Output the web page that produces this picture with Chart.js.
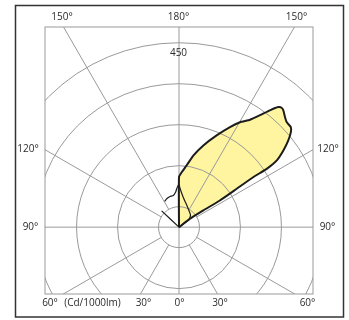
<!DOCTYPE html>
<html><head><meta charset="utf-8">
<script src="https://cdn.jsdelivr.net/npm/chart.js@4/dist/chart.umd.min.js"></script>
<style>html,body{margin:0;padding:0;background:#fff;}canvas{display:block;}</style>
</head><body>
<canvas id="c" width="349" height="320"></canvas>
<script>
// Polar intensity data: angle from nadir (0 = down, 180 = up), right half positive, left half negative
const mainAngles = [180, 180, 177.2, 172.9, 168.7, 163.4, 157.7, 153, 149.8, 146.5, 144.1, 142.1, 140.4, 139.3, 138.2, 136.1, 134.3, 131.8, 130.3, 128.4, 126.3, 124.3, 123.6, 123.9, 123.6, 123.1, 124.5, 127.4, 125];
const mainValues = [0, 122, 134, 152, 178, 208, 242, 274, 296, 314, 337, 361, 380, 384, 382, 373, 367, 366, 358, 340, 316, 289, 259, 218, 169, 119, 72, 34, 0];
const thinAngles = [-130, -133, null, -151, -156.6, -163.7, -169.8, -174.6, -176.6, -179, 180, 179.3, 175.8, 171.2, 162.5, 150.3, 136.7, 125.8, 124];
const thinValues = [0, 58, null, 72, 75.5, 78, 78.5, 86, 94, 102, 104, 99, 84, 72, 59, 48, 41, 30, 0];
const ringValues = [50, 150, 250, 350, 450];
const spokeAngles = [30, 60, 120, 150];
const ringLabel = '450';
const topLabels = ['150°', '180°', '150°'];
const sideLabels = ['120°', '90°'];
const bottomLabels = ['60°', '(Cd/1000lm)', '30°', '0°', '30°', '60°'];

function toXY(angles, values) {
  return angles.map((a, i) => (a === null || values[i] === null) ? {x: null, y: null} :
    {x: values[i] * Math.sin(a * Math.PI / 180), y: -values[i] * Math.cos(a * Math.PI / 180)});
}
const mainPts = toXY(mainAngles, mainValues);
const thinPts = toXY(thinAngles, thinValues);

const FONT = '10px "Open Sans", "Noto Sans", sans-serif';
const TEXT = '#2b2b2b';

const polarGrid = {
  id: 'polarGrid',
  beforeDraw(chart) {
    const ctx = chart.ctx;
    ctx.save(); ctx.fillStyle = '#fff'; ctx.fillRect(0, 0, chart.width, chart.height); ctx.restore();
  },
  afterDatasetDraw(chart, args) {
    if (args.index !== 0) return;
    const {ctx, chartArea: a, scales: {x, y}} = chart;
    const cx = x.getPixelForValue(0), cy = y.getPixelForValue(0);
    const P = (ang, r) => [x.getPixelForValue(r * Math.sin(ang * Math.PI / 180)), y.getPixelForValue(-r * Math.cos(ang * Math.PI / 180))];
    ctx.save();
    ctx.beginPath(); ctx.rect(a.left, a.top, a.right - a.left, a.bottom - a.top); ctx.clip();
    ctx.strokeStyle = '#9a9a9a'; ctx.lineWidth = 1;
    ringValues.forEach(v => {
      ctx.beginPath(); ctx.arc(cx, cy, x.getPixelForValue(v) - cx, 0, Math.PI * 2); ctx.stroke();
    });
    ctx.beginPath(); ctx.moveTo(cx, a.top); ctx.lineTo(cx, a.bottom);
    ctx.moveTo(a.left, cy); ctx.lineTo(a.right, cy); ctx.stroke();
    spokeAngles.forEach(g => {
      [1, -1].forEach(s => {
        const p0 = P(s * g, ringValues[0]), p1 = P(s * g, 2000);
        ctx.beginPath(); ctx.moveTo(p0[0], p0[1]); ctx.lineTo(p1[0], p1[1]); ctx.stroke();
      });
    });
    ctx.restore();
    ctx.save();
    ctx.strokeStyle = '#9a9a9a'; ctx.lineWidth = 1;
    ctx.strokeRect(a.left, a.top, a.right - a.left, a.bottom - a.top);
    ctx.restore();
  },
  afterDraw(chart) {
    const {ctx, chartArea: a, scales: {x, y}} = chart;
    const cx = x.getPixelForValue(0), cy = y.getPixelForValue(0);
    ctx.save();
    ctx.strokeStyle = '#333'; ctx.lineWidth = 1.5;
    ctx.strokeRect(15.5, 5.5, 328, 311.5);
    ctx.fillStyle = TEXT; ctx.font = FONT; ctx.textAlign = 'center'; ctx.textBaseline = 'middle';
    const topY = a.top - 10;
    [62, cx - 0.5, 296.5].forEach((px, i) => ctx.fillText(topLabels[i], px, topY));
    ctx.fillText(ringLabel, cx - 0.5, y.getPixelForValue(ringValues[4]) + 11);
    ctx.fillText(sideLabels[0], 28, 149); ctx.fillText(sideLabels[0], 328, 149);
    ctx.fillText(sideLabels[1], 30.5, cy); ctx.fillText(sideLabels[1], 327.5, cy);
    const botY = a.bottom + 9.5;
    [50, 92.5, 143.5, cx + 0.5, 220, 307.5].forEach((px, i) => ctx.fillText(bottomLabels[i], px, botY));
    ctx.restore();
  }
};

new Chart(document.getElementById('c'), {
  type: 'scatter',
  data: {
    datasets: [
      {data: mainPts, showLine: true, fill: 'shape', backgroundColor: '#fff4a0', borderWidth: 0, borderColor: 'rgba(0,0,0,0)', pointRadius: 0, tension: 0.15, order: 3},
      {data: mainPts, showLine: true, fill: false, borderColor: '#1c1c1c', borderWidth: 2, pointRadius: 0, tension: 0.15, borderJoinStyle: 'round', order: 2},
      {data: thinPts, showLine: true, fill: false, borderColor: '#1c1c1c', borderWidth: 1.2, pointRadius: 0, tension: 0.15, spanGaps: false, order: 1}
    ]
  },
  options: {
    responsive: false,
    animation: false,
    devicePixelRatio: 1,
    layout: {padding: {left: 45, right: 36, top: 27, bottom: 26}},
    scales: {
      x: {type: 'linear', min: -327, max: 327, display: false},
      y: {type: 'linear', min: -163, max: 488, display: false}
    },
    plugins: {legend: {display: false}, tooltip: {enabled: false}}
  },
  plugins: [polarGrid]
});
</script>
</body></html>
